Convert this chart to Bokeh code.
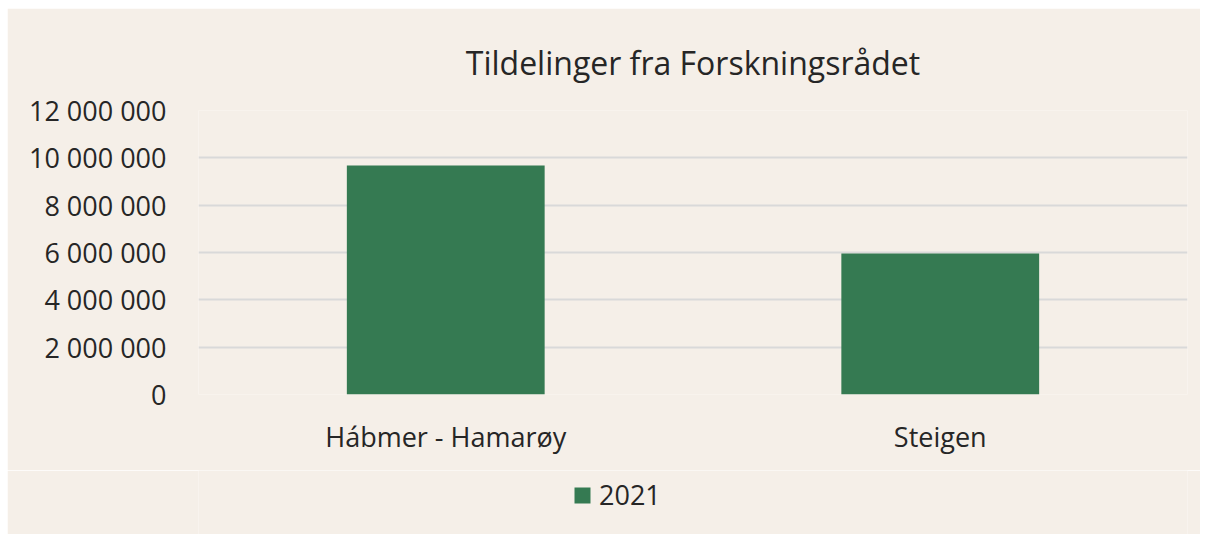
from bokeh.plotting import figure
from bokeh.layouts import column
from bokeh.models import ColumnDataSource, CustomJSTickFormatter, Legend, LegendItem, Range1d, FixedTicker
from bokeh.embed import file_html
from bokeh.resources import INLINE

categories = ["Hábmer - Hamarøy", "Steigen"]
values_2021 = [9680000, 5960000]
series_name = "2021"
y_ticks = [0, 2000000, 4000000, 6000000, 8000000, 10000000, 12000000]

BG = "#F5EFE8"
BAR = "#357A52"
TXT = "#262626"
FONT = "Open Sans"

src = ColumnDataSource(dict(cat=categories, val=values_2021))

p = figure(x_range=categories, y_range=Range1d(0, 12000000), width=1193, height=462,
           output_backend="svg", toolbar_location=None,
           title="Tildelinger fra Forskningsrådet",
           background_fill_color=BG, border_fill_color=BG, outline_line_color=None,
           min_border_left=191, min_border_right=13, min_border_top=102, min_border_bottom=76)

r = p.vbar(x="cat", top="val", width=0.4, source=src, fill_color=BAR, line_color=None)

p.title.align = "center"
p.title.text_font = FONT
p.title.text_font_size = "32px"
p.title.text_font_style = "normal"
p.title.text_color = TXT
p.title.standoff = 54

p.yaxis.ticker = FixedTicker(ticks=y_ticks)
p.yaxis.formatter = CustomJSTickFormatter(code="return tick.toFixed(0).replace(/\\B(?=(\\d{3})+(?!\\d))/g, ' ');")
for ax in (p.xaxis, p.yaxis):
    ax.axis_line_color = None
    ax.major_tick_line_color = None
    ax.minor_tick_line_color = None
    ax.major_label_text_font = FONT
    ax.major_label_text_font_size = "27px"
    ax.major_label_text_color = TXT
p.yaxis.major_label_standoff = 26
p.xaxis.major_label_standoff = 17

p.xgrid.grid_line_color = None
p.ygrid.grid_line_color = "#D9D9D9"
p.ygrid.grid_line_width = 2

# legend strip below the chart (same series, drawn outside the visible range so only the legend swatch shows)
p2 = figure(width=1193, height=64, output_backend="svg", toolbar_location=None,
            x_range=categories, y_range=Range1d(1e8, 2e8),
            background_fill_color=BG, border_fill_color=BG, outline_line_color=None,
            min_border_left=191, min_border_right=13, min_border_top=0, min_border_bottom=0)
p2.axis.visible = False
p2.grid.visible = False
swatch = p2.vbar(x="cat", top="val", width=0.4, source=src, fill_color=BAR, line_color=None)
legend = Legend(items=[LegendItem(label=series_name, renderers=[swatch])], orientation="horizontal",
                location=(374, 21), background_fill_alpha=0, border_line_color=None,
                label_text_font=FONT, label_text_font_size="27px", label_text_color=TXT,
                glyph_width=20, glyph_height=20, margin=0, padding=0, label_standoff=7)
p2.add_layout(legend)

layout = column(p, p2, spacing=0)
layout.margin = (8, 0, 0, 7)

open("out.html", "w").write(file_html(layout, INLINE))
